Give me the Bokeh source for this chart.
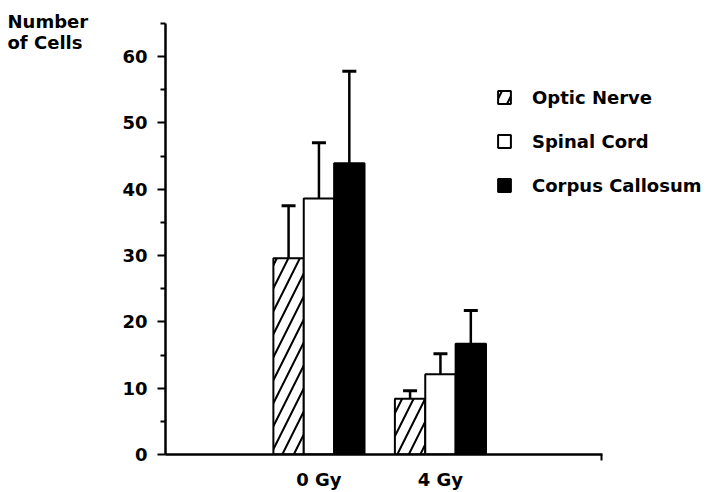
from bokeh.plotting import figure
from bokeh.layouts import row
from bokeh.models import (ColumnDataSource, Whisker, TeeHead, FixedTicker,
                          Legend, LegendItem, Range1d, Label)
from bokeh.embed import file_html
from bokeh.resources import INLINE

# Cell counts (mean and upper error) per tissue, at two radiation doses
groups = ["0 Gy", "4 Gy"]
series = ["Optic Nerve", "Spinal Cord", "Corpus Callosum"]
optic_mean = [29.6, 8.4]
optic_err = [7.9, 1.2]
spinal_mean = [38.6, 12.1]
spinal_err = [8.4, 3.1]
callosum_mean = [43.9, 16.7]
callosum_err = [13.9, 5.0]
y_major = [0, 10, 20, 30, 40, 50, 60]
y_minor = [5, 15, 25, 35, 45, 55, 65]
y_caption = ["Number", "of Cells"]

FONT = "DejaVu Sans"
W, H = 711, 492
CAP_W = 100
group_x = [1, 2]
bar_w = 0.25
offsets = [-0.25, 0.0, 0.25]
x_lo, x_axis_hi, x_hi = -0.263, 3.333, 4.231
y_axis_hi, y_hi = 65, 68.46

# narrow strip carrying the value-axis caption at the top left
cap = figure(width=CAP_W, height=H, output_backend="svg", toolbar_location=None,
             x_range=Range1d(0, CAP_W), y_range=Range1d(0, H),
             x_axis_type=None, y_axis_type=None,
             min_border_left=0, min_border_right=0, min_border_top=0,
             min_border_bottom=0)
cap.outline_line_color = None
cap.xgrid.visible = False
cap.ygrid.visible = False
for txt, base in zip(y_caption, (H - 23, H - 45)):
    cap.add_layout(Label(x=7, y=base, text=txt, text_font=FONT,
                         text_font_style="bold", text_font_size="18px",
                         text_color="black", text_baseline="alphabetic"))

p = figure(width=W - CAP_W, height=H, output_backend="svg", toolbar_location=None,
           x_range=Range1d(x_lo, x_hi), y_range=Range1d(0, y_hi),
           min_border_left=165 - CAP_W, min_border_right=0,
           min_border_top=0, min_border_bottom=37)
p.outline_line_color = None
p.xgrid.visible = False
p.ygrid.visible = False
p.background_fill_color = "white"

styles = [
    dict(fill_color="white", hatch_pattern="/", hatch_color="black",
         hatch_scale=23, hatch_weight=2),
    dict(fill_color="white"),
    dict(fill_color="black"),
]
means = [optic_mean, spinal_mean, callosum_mean]
errs = [optic_err, spinal_err, callosum_err]

renderers = []
for name, m, e, off, st in zip(series, means, errs, offsets, styles):
    xs = [g + off for g in group_x]
    src = ColumnDataSource(dict(x=xs, top=m, upper=[a + b for a, b in zip(m, e)]))
    w = Whisker(base="x", lower="top", upper="upper", source=src,
                line_color="black", line_width=2.5, lower_head=None,
                upper_head=TeeHead(size=14, line_width=3, line_color="black"))
    p.add_layout(w)
    r = p.vbar(x="x", top="top", bottom=0, width=bar_w, source=src,
               line_color="black", line_width=2, **st)
    renderers.append(r)

# value axis
yax = p.yaxis[0]
yax.bounds = (0, y_axis_hi)
yax.ticker = FixedTicker(ticks=y_major, minor_ticks=y_minor)
yax.axis_line_width = 2.5
yax.major_tick_line_width = 2
yax.minor_tick_line_width = 2
yax.major_tick_out = 8
yax.major_tick_in = 0
yax.minor_tick_out = 5
yax.minor_tick_in = 0
yax.major_label_standoff = 10
yax.major_label_text_font = FONT
yax.major_label_text_font_style = "bold"
yax.major_label_text_font_size = "18px"
yax.major_label_text_color = "black"

# dose axis, with a short tick closing its right end
xax = p.xaxis[0]
xax.bounds = (x_lo, x_axis_hi)
xax.ticker = FixedTicker(ticks=group_x, minor_ticks=[x_axis_hi - 0.01])
xax.major_label_overrides = {g: lab for g, lab in zip(group_x, groups)}
xax.axis_line_width = 2.5
xax.major_tick_line_color = None
xax.minor_tick_line_width = 2
xax.major_tick_out = 0
xax.major_tick_in = 0
xax.minor_tick_out = 6
xax.minor_tick_in = 0
xax.major_label_standoff = 8
xax.major_label_text_font = FONT
xax.major_label_text_font_style = "bold"
xax.major_label_text_font_size = "18px"
xax.major_label_text_color = "black"

legend = Legend(items=[LegendItem(label=s, renderers=[r]) for s, r in zip(series, renderers)],
                location=(331, 258), orientation="vertical",
                padding=0, margin=0, spacing=22,
                glyph_width=16, glyph_height=16, label_height=22,
                label_standoff=20, border_line_color=None,
                background_fill_alpha=0,
                label_text_font=FONT, label_text_font_style="bold",
                label_text_font_size="18px", label_text_color="black")
p.add_layout(legend)

layout = row(cap, p, spacing=0)
open("out.html", "w").write(file_html(layout, INLINE))
